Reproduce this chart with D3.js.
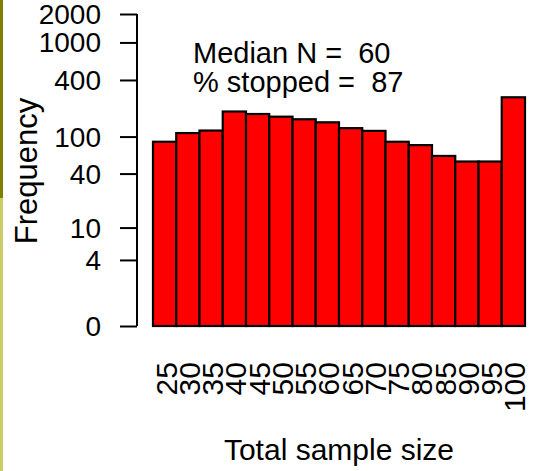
<!DOCTYPE html>
<html>
<head>
<meta charset="utf-8">
<script src="https://cdn.jsdelivr.net/npm/d3@7.9.0/dist/d3.min.js"></script>
<style>
  body { margin: 0; background: #fff; }
  svg text { font-family: 'Liberation Sans', Arial, sans-serif; fill: #000; }
</style>
</head>
<body>
<svg id="chart" width="536" height="471"></svg>
<script>
// bins of total sample size and their frequencies
const sizeLabels = ['25','30','35','40','45','50','55','60','65','70','75','80','85','90','95','100'];
const freqs = [88, 109, 116, 185, 174, 163, 153, 142, 123, 115, 88, 81, 62, 54, 54, 262];
const yTicks = [0, 4, 10, 40, 100, 400, 1000, 2000];
const notes = ['Median N =  60', '% stopped =  87'];

const svg = d3.select('#chart');
const fs = 30;

// left edge strip
svg.append('rect').attr('x', 0).attr('y', 0).attr('width', 3).attr('height', 198).attr('fill', '#7f7f00');
svg.append('rect').attr('x', 0).attr('y', 198).attr('width', 3).attr('height', 273).attr('fill', '#cccc66');

const x = d3.scaleBand().domain(sizeLabels).range([153, 525]).padding(0);
// log(n + 1) axis
const y = d3.scaleSymlog().constant(1).domain([0, 2000]).range([326, 14]);

svg.selectAll('rect.bar')
  .data(freqs)
  .join('rect')
  .attr('class', 'bar')
  .attr('x', (d, i) => x(sizeLabels[i]))
  .attr('y', d => y(d))
  .attr('width', x.bandwidth())
  .attr('height', d => y(0) - y(d))
  .attr('fill', '#ff0000')
  .attr('stroke', '#000')
  .attr('stroke-width', 2.2);

const yAxis = svg.append('g')
  .attr('transform', 'translate(137,0)')
  .call(d3.axisLeft(y).tickValues(yTicks).tickSize(17).tickPadding(19).tickFormat(d3.format('d')));
yAxis.select('.domain').attr('stroke', '#000').attr('stroke-width', 2).attr('d', `M0,${y(2000)}V${y(0)}`);
yAxis.selectAll('.tick line').attr('stroke', '#000').attr('stroke-width', 2);
yAxis.selectAll('.tick text')
  .attr('font-size', 28)
  .attr('dy', '0.34em')
  .attr('font-family', 'Liberation Sans, Arial, sans-serif');

svg.append('g')
  .selectAll('text')
  .data(sizeLabels)
  .join('text')
  .attr('transform', d => `translate(${x(d) + x.bandwidth() / 2 + 12},362) rotate(-90)`)
  .attr('text-anchor', 'end')
  .attr('font-size', fs)
  .text(d => d);

svg.append('text')
  .attr('transform', 'translate(37,171) rotate(-90)')
  .attr('text-anchor', 'middle')
  .attr('font-size', 31)
  .text('Frequency');

svg.append('text')
  .attr('x', 339)
  .attr('y', 460)
  .attr('text-anchor', 'middle')
  .attr('font-size', fs)
  .text('Total sample size');

svg.append('g')
  .selectAll('text')
  .data(notes)
  .join('text')
  .attr('x', 193)
  .attr('y', (d, i) => 63 + i * 29)
  .attr('font-size', 29)
  .attr('xml:space', 'preserve')
  .style('white-space', 'pre')
  .text(d => d);
</script>
</body>
</html>
